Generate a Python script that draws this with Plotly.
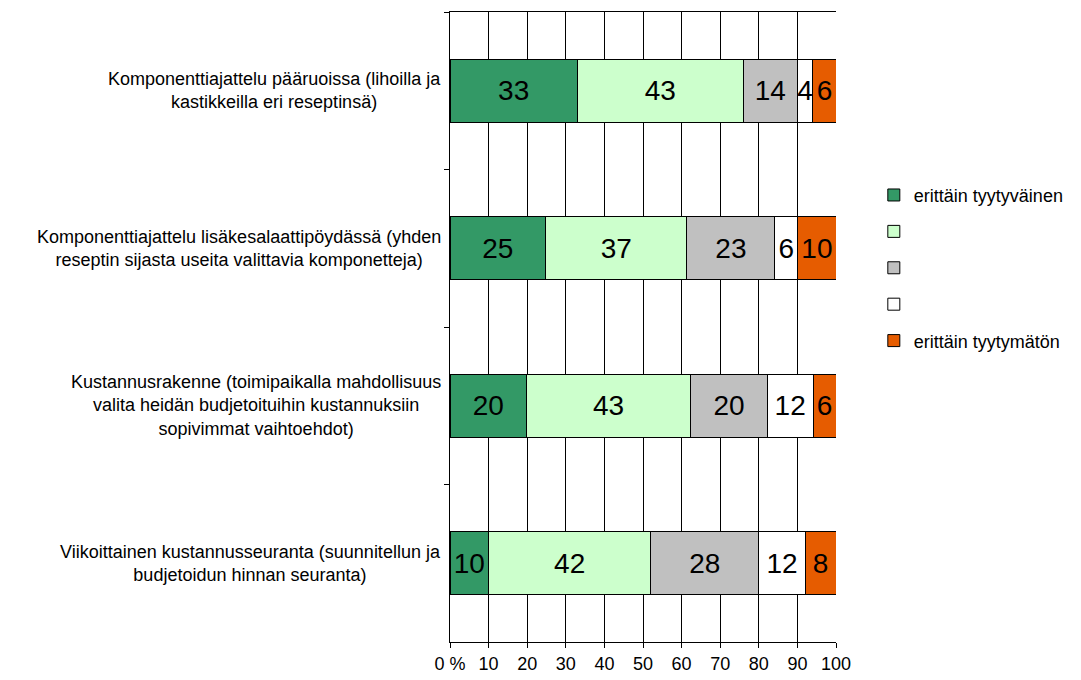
import plotly.graph_objects as go

categories = [
    "Komponenttiajattelu pääruoissa (lihoilla ja<br>kastikkeilla eri reseptinsä)",
    "Komponenttiajattelu lisäkesalaattipöydässä (yhden<br>reseptin sijasta useita valittavia komponetteja)",
    "Kustannusrakenne (toimipaikalla mahdollisuus<br>valita heidän budjetoituihin kustannuksiin<br>sopivimmat vaihtoehdot)",
    "Viikoittainen kustannusseuranta (suunnitellun ja<br>budjetoidun hinnan seuranta)",
]
cat_keys = ["c1", "c2", "c3", "c4"]

series_names = ["erittäin tyytyväinen", " ", "  ", "   ", "erittäin tyytymätön"]
series_values = [
    [33, 25, 20, 10],
    [43, 37, 43, 42],
    [14, 23, 20, 28],
    [4, 6, 12, 12],
    [6, 10, 6, 8],
]
series_colors = ["#339966", "#CCFFCC", "#C0C0C0", "#FFFFFF", "#E65C00"]
tick_vals = [0, 10, 20, 30, 40, 50, 60, 70, 80, 90, 100]
tick_text = ["0 %", "10", "20", "30", "40", "50", "60", "70", "80", "90", "100"]

FONT = "Liberation Sans, Arial, sans-serif"

fig = go.Figure()
for i, (name, vals, col) in enumerate(zip(series_names, series_values, series_colors)):
    fig.add_trace(go.Bar(
        y=cat_keys, x=vals, name=name, orientation="h",
        marker=dict(color=col, line=dict(color="#000000", width=1)),
        text=[str(v) for v in vals], textposition="inside",
        insidetextanchor="middle",
        textfont=dict(family=FONT, size=28, color="#000000"),
        legendgroup=f"g{i}",
        cliponaxis=False,
    ))

for key, label in zip(cat_keys, categories):
    fig.add_annotation(
        x=0, xref="paper", y=key, yref="y", text=label,
        xanchor="right", yanchor="middle", align="center",
        xshift=-7, showarrow=False,
        font=dict(family=FONT, size=18, color="#000000"),
    )

fig.update_layout(
    width=1081, height=680,
    margin=dict(l=442, r=253, t=4, b=46),
    barmode="stack", barnorm="percent", bargap=0.6,
    plot_bgcolor="#FFFFFF", paper_bgcolor="#FFFFFF",
    uniformtext=dict(minsize=28, mode="show"),
    font=dict(family=FONT, color="#000000"),
    legend=dict(
        x=1.098, xanchor="left", y=0.594, yanchor="middle",
        traceorder="grouped", tracegroupgap=10,
        font=dict(family=FONT, size=18, color="#000000"),
        itemwidth=30,
    ),
    xaxis=dict(
        range=[0, 100], tickvals=tick_vals, ticktext=tick_text,
        showgrid=True, gridcolor="#000000", gridwidth=1,
        showline=True, linecolor="#000000", linewidth=1, mirror=True,
        ticks="outside", ticklen=5, tickcolor="#000000",
        tickfont=dict(family=FONT, size=18, color="#000000"),
        zeroline=False, fixedrange=True,
    ),
    yaxis=dict(
        categoryorder="array", categoryarray=cat_keys, autorange="reversed",
        showticklabels=False, tickson="boundaries",
        ticks="outside", ticklen=5, tickcolor="#000000",
        showline=True, linecolor="#000000", linewidth=1,
        showgrid=False, zeroline=False,
    ),
)

fig.write_html("out.html")
